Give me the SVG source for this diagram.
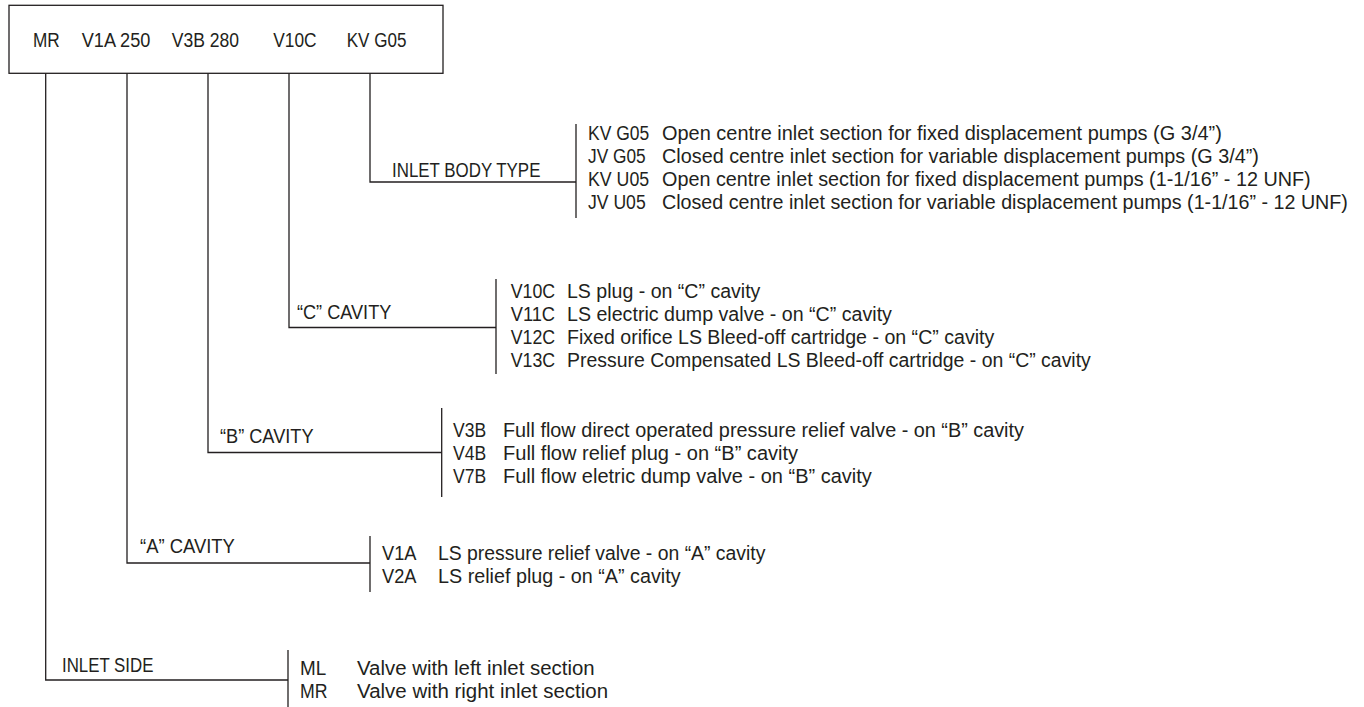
<svg xmlns="http://www.w3.org/2000/svg" width="1364" height="707" viewBox="0 0 1364 707">
<style>
text{font-family:"Liberation Sans",Arial,sans-serif;font-size:19.5px;fill:#231f20}
.ln{fill:none;stroke:#231f20;stroke-width:1.3}
</style>
<rect width="1364" height="707" fill="#ffffff"/>
<g id="code-box">
<rect class="ln" x="9" y="5.3" width="434" height="68"/>
<text x="33" y="47" textLength="26.8" lengthAdjust="spacingAndGlyphs">MR</text>
<text x="81.7" y="47" textLength="68.7" lengthAdjust="spacingAndGlyphs">V1A 250</text>
<text x="171.7" y="47" textLength="67.3" lengthAdjust="spacingAndGlyphs">V3B 280</text>
<text x="273.3" y="47" textLength="43.3" lengthAdjust="spacingAndGlyphs">V10C</text>
<text x="346.7" y="47" textLength="59.7" lengthAdjust="spacingAndGlyphs">KV G05</text>
</g>
<g id="connectors">
<polyline class="ln" points="45.7,73.3 45.7,680 288,680"/>
<polyline class="ln" points="127,73.3 127,563 370,563"/>
<polyline class="ln" points="208,73.3 208,452.5 441.7,452.5"/>
<polyline class="ln" points="289,73.3 289,327.5 496,327.5"/>
<polyline class="ln" points="370,73.3 370,182 576,182"/>
</g>
<g id="inlet-body-type">
<text x="392" y="177" textLength="148.4" lengthAdjust="spacingAndGlyphs">INLET BODY TYPE</text>
<line class="ln" x1="576" y1="124" x2="576" y2="218"/>
<text x="588" y="140" textLength="61.2" lengthAdjust="spacingAndGlyphs">KV G05</text>
<text x="588" y="163" textLength="57.6" lengthAdjust="spacingAndGlyphs">JV G05</text>
<text x="588" y="186" textLength="61.2" lengthAdjust="spacingAndGlyphs">KV U05</text>
<text x="588" y="209" textLength="57.7" lengthAdjust="spacingAndGlyphs">JV U05</text>
<text x="662" y="140" textLength="559.8" lengthAdjust="spacingAndGlyphs">Open centre inlet section for fixed displacement pumps (G 3/4”)</text>
<text x="662" y="163" textLength="596.9" lengthAdjust="spacingAndGlyphs">Closed centre inlet section for variable displacement pumps (G 3/4”)</text>
<text x="662" y="186" textLength="648.7" lengthAdjust="spacingAndGlyphs">Open centre inlet section for fixed displacement pumps (1-1/16” - 12 UNF)</text>
<text x="662" y="209" textLength="685.9" lengthAdjust="spacingAndGlyphs">Closed centre inlet section for variable displacement pumps (1-1/16” - 12 UNF)</text>
</g>
<g id="c-cavity">
<text x="297" y="319" textLength="94.3" lengthAdjust="spacingAndGlyphs">“C” CAVITY</text>
<line class="ln" x1="496" y1="279" x2="496" y2="374"/>
<text x="510.7" y="298" textLength="44.4" lengthAdjust="spacingAndGlyphs">V10C</text>
<text x="510.7" y="321" textLength="44.4" lengthAdjust="spacingAndGlyphs">V11C</text>
<text x="510.7" y="344" textLength="44.4" lengthAdjust="spacingAndGlyphs">V12C</text>
<text x="510.7" y="367" textLength="44.4" lengthAdjust="spacingAndGlyphs">V13C</text>
<text x="567" y="298" textLength="193.4" lengthAdjust="spacingAndGlyphs">LS plug - on “C” cavity</text>
<text x="567" y="321" textLength="324.9" lengthAdjust="spacingAndGlyphs">LS electric dump valve - on “C” cavity</text>
<text x="567" y="344" textLength="427.3" lengthAdjust="spacingAndGlyphs">Fixed orifice LS Bleed-off cartridge - on “C” cavity</text>
<text x="567" y="367" textLength="523.8" lengthAdjust="spacingAndGlyphs">Pressure Compensated LS Bleed-off cartridge - on “C” cavity</text>
</g>
<g id="b-cavity">
<text x="220" y="443" textLength="93.5" lengthAdjust="spacingAndGlyphs">“B” CAVITY</text>
<line class="ln" x1="441.7" y1="408" x2="441.7" y2="497"/>
<text x="453" y="437" textLength="33.1" lengthAdjust="spacingAndGlyphs">V3B</text>
<text x="453" y="460" textLength="33.1" lengthAdjust="spacingAndGlyphs">V4B</text>
<text x="453" y="483" textLength="33.1" lengthAdjust="spacingAndGlyphs">V7B</text>
<text x="503" y="437" textLength="520.9" lengthAdjust="spacingAndGlyphs">Full flow direct operated pressure relief valve - on “B” cavity</text>
<text x="503" y="460" textLength="295.1" lengthAdjust="spacingAndGlyphs">Full flow relief plug - on “B” cavity</text>
<text x="503" y="483" textLength="368.8" lengthAdjust="spacingAndGlyphs">Full flow eletric dump valve - on “B” cavity</text>
</g>
<g id="a-cavity">
<text x="140" y="553" textLength="94.9" lengthAdjust="spacingAndGlyphs">“A” CAVITY</text>
<line class="ln" x1="370" y1="536" x2="370" y2="592"/>
<text x="382" y="560" textLength="34.5" lengthAdjust="spacingAndGlyphs">V1A</text>
<text x="382" y="583" textLength="34.5" lengthAdjust="spacingAndGlyphs">V2A</text>
<text x="438" y="560" textLength="327.4" lengthAdjust="spacingAndGlyphs">LS pressure relief valve - on “A” cavity</text>
<text x="438" y="583" textLength="242.5" lengthAdjust="spacingAndGlyphs">LS relief plug - on “A” cavity</text>
</g>
<g id="inlet-side">
<text x="62" y="672" textLength="91.4" lengthAdjust="spacingAndGlyphs">INLET SIDE</text>
<line class="ln" x1="288" y1="650" x2="288" y2="707"/>
<text x="300" y="675" textLength="26.2" lengthAdjust="spacingAndGlyphs">ML</text>
<text x="300" y="698" textLength="27.5" lengthAdjust="spacingAndGlyphs">MR</text>
<text x="357" y="675" textLength="237.6" lengthAdjust="spacingAndGlyphs">Valve with left inlet section</text>
<text x="357" y="698" textLength="251.1" lengthAdjust="spacingAndGlyphs">Valve with right inlet section</text>
</g>
</svg>
